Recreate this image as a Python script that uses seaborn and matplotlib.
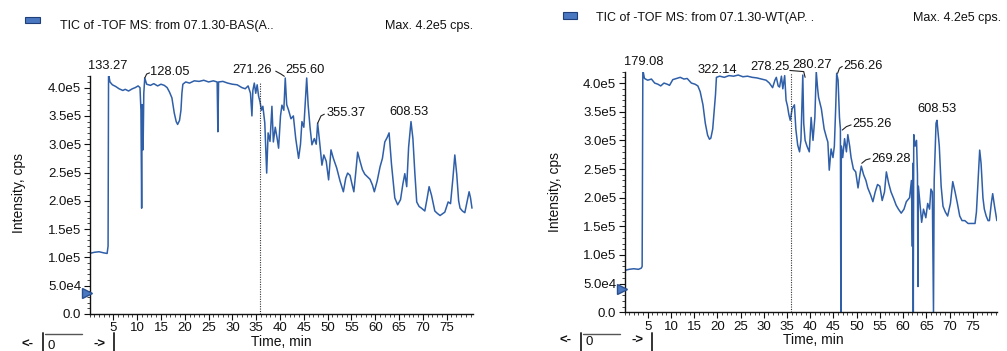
import matplotlib
matplotlib.use("Agg")
import matplotlib.pyplot as plt
import seaborn as sns
import pandas as pd
from matplotlib.ticker import MultipleLocator
from matplotlib.lines import Line2D
from matplotlib.patches import Rectangle

# ---------------- data ----------------
bas_time = [0.0, 1.0, 2.0, 3.0, 3.7, 3.9, 4.0, 4.3, 4.8, 5.5, 6.2, 7.0, 7.5, 8.2, 9.0, 9.6,
            10.2, 10.6, 10.8, 10.95, 11.05, 11.25, 11.4, 11.6, 12.0, 12.8, 13.5, 14.3, 15.0,
            15.7, 16.3, 16.8, 17.3, 17.8, 18.2, 18.5, 18.9, 19.2, 19.4, 19.6, 20.2, 21.0,
            22.0, 23.0, 24.0, 25.0, 26.0, 26.8, 26.95, 27.1, 28.0, 29.0, 30.0, 31.0, 32.0,
            32.7, 33.3, 33.8, 34.1, 34.3, 34.6, 34.9, 35.2, 35.5, 35.8, 36.1, 36.4, 36.8,
            37.2, 37.5, 37.9, 38.3, 38.6, 39.0, 39.4, 39.7, 40.1, 40.4, 40.8, 41.1, 41.4,
            41.8, 42.3, 42.8, 43.3, 43.9, 44.3, 44.6, 45.0, 45.6, 45.9, 46.3, 46.7, 47.2,
            47.6, 47.9, 48.3, 48.8, 49.2, 49.7, 50.2, 50.7, 51.2, 51.9, 52.6, 53.3, 53.8,
            54.2, 54.7, 55.1, 55.5, 55.9, 56.3, 56.8, 57.3, 57.8, 58.4, 58.9, 59.4, 59.8,
            60.4, 61.0, 61.5, 62.0, 62.5, 62.9, 63.4, 63.8, 64.1, 64.7, 65.3, 65.8, 66.2,
            66.6, 67.0, 67.5, 67.9, 68.3, 68.7, 69.2, 69.7, 70.4, 70.9, 71.3, 71.8, 72.5,
            73.0, 73.6, 74.1, 74.6, 75.3, 75.8, 76.3, 76.7, 77.1, 77.5, 77.8, 78.3, 78.8,
            79.3, 79.7, 80.0, 80.3]
bas_intensity = [1.07e5, 1.09e5, 1.10e5, 1.08e5, 1.07e5, 1.20e5, 4.24e5, 4.10e5, 4.05e5,
                 4.02e5, 3.98e5, 3.95e5, 3.97e5, 3.94e5, 3.98e5, 4.00e5, 4.03e5, 4.00e5,
                 3.60e5, 1.87e5, 3.70e5, 2.90e5, 3.90e5, 4.17e5, 4.06e5, 4.04e5, 4.07e5,
                 4.03e5, 4.06e5, 4.04e5, 4.00e5, 3.92e5, 3.82e5, 3.55e5, 3.40e5, 3.35e5,
                 3.42e5, 3.60e5, 3.90e5, 4.06e5, 4.10e5, 4.08e5, 4.12e5, 4.11e5, 4.13e5,
                 4.10e5, 4.12e5, 4.10e5, 3.22e5, 4.10e5, 4.11e5, 4.08e5, 4.06e5, 4.05e5,
                 4.00e5, 3.98e5, 4.03e5, 3.90e5, 3.50e5, 3.95e5, 4.08e5, 3.90e5, 4.05e5,
                 3.85e5, 3.75e5, 3.60e5, 3.67e5, 3.38e5, 2.49e5, 3.20e5, 3.05e5, 3.67e5,
                 3.04e5, 3.30e5, 3.10e5, 2.93e5, 3.50e5, 3.69e5, 3.60e5, 4.17e5, 3.70e5,
                 3.60e5, 3.45e5, 3.50e5, 3.10e5, 2.75e5, 3.00e5, 3.40e5, 3.30e5, 4.17e5,
                 3.70e5, 3.30e5, 2.99e5, 3.10e5, 3.00e5, 3.37e5, 3.05e5, 2.63e5, 2.81e5,
                 2.70e5, 2.37e5, 2.90e5, 2.75e5, 2.58e5, 2.35e5, 2.16e5, 2.40e5, 2.49e5,
                 2.45e5, 2.30e5, 2.16e5, 2.50e5, 2.86e5, 2.70e5, 2.55e5, 2.47e5, 2.42e5,
                 2.38e5, 2.28e5, 2.16e5, 2.35e5, 2.60e5, 2.75e5, 3.04e5, 3.12e5, 3.20e5,
                 2.65e5, 2.30e5, 2.05e5, 1.93e5, 2.02e5, 2.30e5, 2.48e5, 2.25e5, 2.95e5,
                 3.40e5, 3.10e5, 2.50e5, 1.98e5, 1.90e5, 1.87e5, 1.82e5, 2.05e5, 2.25e5,
                 2.10e5, 1.82e5, 1.78e5, 1.74e5, 1.77e5, 1.80e5, 1.98e5, 1.95e5, 2.40e5,
                 2.81e5, 2.47e5, 2.00e5, 1.87e5, 1.82e5, 1.79e5, 2.00e5, 2.16e5, 2.05e5,
                 1.87e5]

wt_time = [0.0, 1.0, 2.0, 3.0, 3.6, 3.8, 3.95, 4.3, 5.0, 5.8, 6.5, 7.2, 7.8, 8.5, 9.2, 9.7,
           10.4, 11.2, 12.0, 12.8, 13.5, 14.4, 15.2, 15.8, 16.3, 16.9, 17.4, 17.9, 18.3,
           18.6, 19.0, 19.3, 19.6, 19.8, 20.5, 21.5, 22.5, 23.5, 24.5, 25.5, 26.5, 27.5,
           28.5, 29.5, 30.5, 31.2, 31.9, 32.4, 32.7, 33.1, 33.4, 33.8, 34.1, 34.5, 34.8,
           35.1, 35.4, 35.7, 36.1, 36.6, 36.9, 37.3, 37.7, 38.0, 38.2, 38.4, 38.6, 38.9,
           39.3, 39.8, 40.2, 40.6, 41.0, 41.3, 41.6, 41.8, 42.4, 43.0, 43.5, 43.8, 44.1,
           44.5, 44.9, 45.2, 45.5, 45.7, 46.0, 46.3, 46.5, 46.6, 46.7, 47.0, 47.4, 47.8,
           48.1, 48.5, 48.8, 49.3, 49.8, 50.3, 50.7, 51.0, 51.5, 52.0, 52.4, 53.0, 53.5,
           54.0, 54.5, 55.0, 55.5, 56.0, 56.4, 56.9, 57.4, 58.0, 58.5, 59.0, 59.6, 60.2,
           60.7, 61.4, 61.8, 62.0, 62.1, 62.2, 62.3, 62.6, 62.9, 63.1, 63.2, 63.3, 63.6,
           64.0, 64.4, 64.9, 65.3, 65.7, 66.0, 66.3, 66.55, 66.7, 67.1, 67.3, 67.8, 68.2,
           68.6, 69.1, 69.6, 70.2, 70.7, 71.2, 71.7, 72.2, 72.7, 73.3, 74.0, 74.8, 75.5,
           75.8, 76.1, 76.5, 76.8, 77.2, 77.5, 77.9, 78.3, 78.6, 79.0, 79.3, 79.7, 80.2]
wt_intensity = [7.3e4, 7.5e4, 7.6e4, 7.5e4, 7.7e4, 8.0e4, 4.23e5, 4.08e5, 4.05e5, 4.07e5,
                4.00e5, 3.98e5, 3.95e5, 4.00e5, 3.98e5, 3.96e5, 4.06e5, 4.08e5, 4.10e5,
                4.07e5, 4.08e5, 4.00e5, 3.98e5, 3.95e5, 3.85e5, 3.62e5, 3.30e5, 3.09e5,
                3.02e5, 3.04e5, 3.20e5, 3.50e5, 3.80e5, 4.10e5, 4.12e5, 4.10e5, 4.13e5,
                4.12e5, 4.14e5, 4.11e5, 4.12e5, 4.10e5, 4.09e5, 4.07e5, 4.05e5, 4.00e5,
                3.92e5, 4.05e5, 4.10e5, 3.95e5, 3.93e5, 4.12e5, 3.90e5, 4.13e5, 3.70e5,
                3.60e5, 3.45e5, 3.35e5, 3.55e5, 3.62e5, 3.20e5, 2.92e5, 2.80e5, 3.00e5,
                3.60e5, 4.14e5, 3.30e5, 3.00e5, 2.90e5, 2.80e5, 3.40e5, 3.00e5, 3.40e5,
                4.20e5, 3.90e5, 3.75e5, 3.55e5, 3.20e5, 3.05e5, 2.97e5, 2.48e5, 2.85e5,
                2.70e5, 2.90e5, 3.60e5, 4.17e5, 4.05e5, 3.40e5, 3.20e5, 0.0, 2.90e5,
                2.70e5, 3.03e5, 2.80e5, 3.10e5, 2.90e5, 2.70e5, 2.50e5, 2.45e5, 2.17e5,
                2.40e5, 2.55e5, 2.40e5, 2.30e5, 2.17e5, 2.05e5, 1.93e5, 2.10e5, 2.23e5,
                2.20e5, 1.95e5, 2.10e5, 2.45e5, 2.25e5, 2.10e5, 1.98e5, 1.87e5, 1.80e5,
                1.73e5, 1.80e5, 1.93e5, 2.00e5, 2.30e5, 1.15e5, 2.60e5, 0.0, 3.10e5,
                2.90e5, 3.00e5, 2.40e5, 4.5e4, 2.20e5, 1.93e5, 1.57e5, 1.80e5, 1.65e5,
                1.90e5, 1.80e5, 2.15e5, 2.10e5, 0.0, 2.30e5, 3.30e5, 3.35e5, 2.90e5,
                2.20e5, 1.85e5, 1.75e5, 1.68e5, 1.90e5, 2.28e5, 2.10e5, 1.90e5, 1.68e5,
                1.60e5, 1.60e5, 1.55e5, 1.55e5, 1.55e5, 1.75e5, 2.20e5, 2.83e5, 2.60e5,
                2.00e5, 1.80e5, 1.68e5, 1.60e5, 1.60e5, 1.90e5, 2.07e5, 1.85e5, 1.60e5]

x_ticks = [5, 10, 15, 20, 25, 30, 35, 40, 45, 50, 55, 60, 65, 70, 75]
y_ticks = [0, 5e4, 1e5, 1.5e5, 2e5, 2.5e5, 3e5, 3.5e5, 4e5]
y_tick_labels = ["0.0", "5.0e4", "1.0e5", "1.5e5", "2.0e5", "2.5e5", "3.0e5", "3.5e5", "4.0e5"]

bas_title = "TIC of -TOF MS: from 07.1.30-BAS(A.."
wt_title = "TIC of -TOF MS: from 07.1.30-WT(AP. ."
max_label = "Max. 4.2e5 cps."
bas_marker_time = 35.8
wt_marker_time = 35.9

# ---------------- style ----------------
sns.set_style("ticks")
plt.rcParams['font.family'] = ['Liberation Sans', 'DejaVu Sans']
LINE = "#2f5fa8"
W, H = 1007, 351


def fx(px):
    return px / W


def fy(py):
    return 1 - py / H


fig = plt.figure(figsize=(W / 100, H / 100), dpi=100)


def make_axes(rect, times, values, xmax):
    ax = fig.add_axes(rect)
    df = pd.DataFrame({"Time": times, "Intensity": values})
    sns.lineplot(data=df, x="Time", y="Intensity", ax=ax, color=LINE, linewidth=1.1,
                 estimator=None, sort=False)
    ax.set_xlim(0, xmax)
    ax.set_ylim(0, 4.2e5)
    ax.set_xticks(x_ticks)
    ax.set_xticklabels([str(t) for t in x_ticks])
    ax.set_yticks(y_ticks)
    ax.set_yticklabels(y_tick_labels)
    ax.xaxis.set_minor_locator(MultipleLocator(1))
    ax.yaxis.set_minor_locator(MultipleLocator(1e4))
    ax.tick_params(which="major", direction="out", length=4, width=0.8, labelsize=9.5,
                   pad=2, colors="#111111")
    ax.tick_params(which="minor", direction="out", length=2, width=0.6)
    ax.set_xlabel("")
    ax.set_ylabel("")
    sns.despine(ax=ax)
    for s in ("left", "bottom"):
        ax.spines[s].set_linewidth(1.0)
        ax.spines[s].set_color("#111111")
    ax.patch.set_alpha(0)
    return ax


def annotate(ax, text, x, y, leader=None):
    ax.text(x, y, text, ha="center", va="center", fontsize=9.3, color="#111111",
            clip_on=False)
    if leader is not None:
        ax.plot(leader[0], leader[1], color="#222222", lw=0.8, clip_on=False)


# left panel
axL = make_axes([fx(89.5), fy(314), (473.3 - 89.5) / W, (314 - 76.3) / H],
                bas_time, bas_intensity, 80.58)
axL.plot([bas_marker_time, bas_marker_time], [0, 4.08e5], ls=(0, (1, 1.2)), lw=0.8,
         color="#333333")
annotate(axL, "133.27", 3.9, 4.38e5)
annotate(axL, "128.05", 16.8, 4.27e5, ([11.6, 12.0, 12.6], [4.17e5, 4.24e5, 4.26e5]))
annotate(axL, "271.26", 34.2, 4.31e5)
annotate(axL, "255.60", 45.2, 4.31e5, ([39.1, 40.2, 40.9], [4.29e5, 4.24e5, 4.20e5]))
annotate(axL, "355.37", 53.8, 3.56e5, ([47.9, 48.6, 49.3], [3.37e5, 3.50e5, 3.53e5]))
annotate(axL, "608.53", 67.1, 3.57e5)

# right panel
axR = make_axes([fx(624.5), fy(312.3), (997 - 624.5) / W, (312.3 - 71.6) / H],
                wt_time, wt_intensity, 80.23)
axR.plot([wt_marker_time, wt_marker_time], [0, 4.18e5], ls=(0, (1, 1.2)), lw=0.8,
         color="#333333")
annotate(axR, "179.08", 4.2, 4.37e5)
annotate(axR, "322.14", 19.9, 4.23e5)
annotate(axR, "278.25", 31.3, 4.28e5, ([35.6, 38.6, 38.9], [4.22e5, 4.20e5, 4.10e5]))
annotate(axR, "280.27", 40.5, 4.31e5)
annotate(axR, "256.26", 51.4, 4.30e5, ([45.9, 46.3, 46.9], [4.17e5, 4.26e5, 4.29e5]))
annotate(axR, "608.53", 67.4, 3.54e5)
annotate(axR, "255.26", 53.4, 3.28e5, ([46.9, 47.8, 48.8], [3.18e5, 3.24e5, 3.27e5]))
annotate(axR, "269.28", 57.4, 2.67e5, ([51.1, 52.0, 52.9], [2.60e5, 2.66e5, 2.68e5]))

# figure-level decorations
TXT = "#111111"
fig.text(fx(60), fy(25.5), bas_title, fontsize=9, color=TXT, va="center", ha="left")
fig.text(fx(385), fy(25.5), max_label, fontsize=9, color=TXT, va="center", ha="left")
fig.text(fx(596), fy(18.5), wt_title, fontsize=9, color=TXT, va="center", ha="left")
fig.text(fx(913), fy(18.5), max_label, fontsize=9, color=TXT, va="center", ha="left")

for (x0, y0, w, h) in [(25, 17, 15, 6), (563, 12.5, 14, 6)]:
    fig.patches.append(Rectangle((fx(x0), fy(y0 + h)), w / W, h / H, transform=fig.transFigure,
                                 facecolor="#4a78c0", edgecolor="#1f3f7a", lw=0.8))

fig.text(fx(19), fy(193), "Intensity, cps", rotation=90, fontsize=10, color=TXT,
         ha="center", va="center")
fig.text(fx(555), fy(192), "Intensity, cps", rotation=90, fontsize=10, color=TXT,
         ha="center", va="center")
fig.text(fx(281), fy(349.5), "Time, min", fontsize=10, color=TXT, ha="center", va="bottom")
fig.text(fx(813), fy(347), "Time, min", fontsize=10, color=TXT, ha="center", va="bottom")

# little triangle markers at 5e4 level
for (px, py) in [(87, 293), (622, 289)]:
    fig.add_artist(Line2D([fx(px)], [fy(py)], marker=">", markersize=7, color="#4a78c0",
                          markeredgecolor="#2a4f8f", transform=fig.transFigure))

# scroll widgets  "<- |0   ->|"
for (base, py) in [(0, 345), (538, 341)]:
    fig.text(fx(28 + base), fy(py), "<-", fontsize=9.5, color=TXT, ha="center", va="center",
             fontweight="bold")
    fig.add_artist(Line2D([fx(43 + base)] * 2, [fy(333), fy(351)], color="#333333", lw=1.4,
                          transform=fig.transFigure))
    fig.add_artist(Line2D([fx(45 + base), fx(82 + base)], [fy(334), fy(334)], color="#555555",
                          lw=1.0, transform=fig.transFigure))
    fig.text(fx(47 + base), fy(py + 1), "0", fontsize=9.5, color=TXT, ha="left", va="center")
    fig.text(fx(100 + base), fy(py), "->", fontsize=9.5, color=TXT, ha="center", va="center",
             fontweight="bold")
    fig.add_artist(Line2D([fx(114 + base)] * 2, [fy(333), fy(351)], color="#333333", lw=1.4,
                          transform=fig.transFigure))

fig.savefig("out.png", dpi=100)
